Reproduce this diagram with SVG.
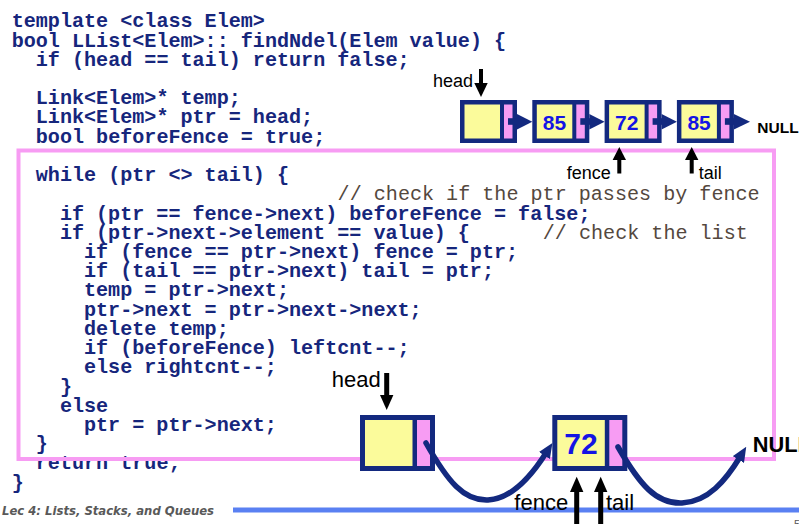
<svg xmlns="http://www.w3.org/2000/svg" width="799" height="524" viewBox="0 0 799 524">
<style>
.code{font-family:"Liberation Mono","Courier New",monospace;font-size:20.1px;font-weight:bold;fill:#16267c;}
.cmt{font-family:"Liberation Mono","Courier New",monospace;font-size:20.1px;font-weight:normal;fill:#54483e;}
.navy{fill:#13297f;}
.yel{fill:#fbfb9b;}
.pink{fill:#f79cf3;}
.val{font-family:"Liberation Sans",Arial,sans-serif;font-weight:bold;fill:#1414e4;text-anchor:middle;}
.lbl{font-family:"Liberation Sans",Arial,sans-serif;fill:#000;}
.null{font-family:"Liberation Sans",Arial,sans-serif;font-weight:bold;fill:#000;}
.curve{fill:none;stroke:#13297f;stroke-width:5.5;stroke-linecap:round;}
.ptr{fill:#000;}
</style>
<defs>
<marker id="curvehead" markerUnits="userSpaceOnUse" viewBox="0 0 15 13" refX="3" refY="6.5" markerWidth="15" markerHeight="13" orient="auto">
<path d="M0,0 L15,6.5 L0,13 z" fill="#13297f"/>
</marker>
</defs>
<rect width="799" height="524" fill="#fff"/>

<g id="code">
<text class="code" x="11.7" y="27.3">template &lt;class Elem&gt;</text>
<text class="code" x="11.7" y="46.5">bool LList&lt;Elem&gt;:: findNdel(Elem value) {</text>
<text class="code" x="35.8" y="65.7">if (head == tail) return false;</text>
<text class="code" x="35.8" y="104.2">Link&lt;Elem&gt;* temp;</text>
<text class="code" x="35.8" y="123.4">Link&lt;Elem&gt;* ptr = head;</text>
<text class="code" x="35.8" y="142.6">bool beforeFence = true;</text>
<text class="code" x="35.8" y="181.1">while (ptr &lt;&gt; tail) {</text>
<text class="cmt" x="337.6" y="200.3">// check if the ptr passes by fence</text>
<text class="code" x="59.9" y="219.5">if (ptr == fence-&gt;next) beforeFence = false;</text>
<text class="code" x="59.9" y="238.7">if (ptr-&gt;next-&gt;element == value) {</text>
<text class="cmt" x="542.8" y="238.7">// check the list</text>
<text class="code" x="84" y="257.9">if (fence == ptr-&gt;next) fence = ptr;</text>
<text class="code" x="84" y="277.1">if (tail == ptr-&gt;next) tail = ptr;</text>
<text class="code" x="84" y="296.4">temp = ptr-&gt;next;</text>
<text class="code" x="84" y="315.6">ptr-&gt;next = ptr-&gt;next-&gt;next;</text>
<text class="code" x="84" y="334.8">delete temp;</text>
<text class="code" x="84" y="354">if (beforeFence) leftcnt--;</text>
<text class="code" x="84" y="373.3">else rightcnt--;</text>
<text class="code" x="59.9" y="392.5">}</text>
<text class="code" x="59.9" y="411.7">else</text>
<text class="code" x="84" y="430.9">ptr = ptr-&gt;next;</text>
<text class="code" x="35.8" y="450.1">}</text>
<text class="code" x="35.8" y="469.3">return true;</text>
<text class="code" x="11.7" y="488.5">}</text>
</g>

<rect id="loop-frame" x="18.5" y="150.5" width="755.5" height="308.5" fill="none" stroke="#f79cf3" stroke-width="4"/>

<g id="footer">
<line x1="233" y1="510" x2="799" y2="510" stroke="#5a80f2" stroke-width="5"/>
<text x="2" y="515.3" font-family="'DejaVu Sans',Verdana,sans-serif" font-size="11.6" font-weight="bold" font-style="italic" fill="#595959" textLength="212" lengthAdjust="spacingAndGlyphs">Lec 4: Lists, Stacks, and Queues</text>
<text x="794" y="528" font-family="'Liberation Sans',Arial,sans-serif" font-size="11" fill="#595959">5</text>
</g>

<g id="top-node-1">
<rect class="navy" x="460" y="100" width="57" height="43"/>
<rect class="yel" x="464.5" y="104.5" width="35.5" height="34"/>
<rect class="pink" x="504" y="104.5" width="8.5" height="34"/>
</g>
<g id="top-node-2">
<rect class="navy" x="532.3" y="100" width="57" height="43"/>
<rect class="yel" x="536.8" y="104.5" width="35.5" height="34"/>
<rect class="pink" x="576.3" y="104.5" width="8.5" height="34"/>
<text class="val" x="554.5" y="129.5" font-size="21">85</text>
</g>
<g id="top-node-3">
<rect class="navy" x="604.6" y="100" width="57" height="43"/>
<rect class="yel" x="609.1" y="104.5" width="35.5" height="34"/>
<rect class="pink" x="648.6" y="104.5" width="8.5" height="34"/>
<text class="val" x="626.8" y="129.5" font-size="21">72</text>
</g>
<g id="top-node-4">
<rect class="navy" x="676.9" y="100" width="57" height="43"/>
<rect class="yel" x="681.4" y="104.5" width="35.5" height="34"/>
<rect class="pink" x="720.9" y="104.5" width="8.5" height="34"/>
<text class="val" x="699.1" y="129.5" font-size="21">85</text>
</g>
<text id="top-null" class="null" x="757.3" y="132.7" font-size="15.5">NULL</text>

<g id="bottom-node-1">
<rect class="navy" x="360" y="415" width="75" height="56"/>
<rect class="yel" x="365" y="420" width="47.5" height="46"/>
<rect class="pink" x="417" y="420" width="13" height="46"/>
</g>
<g id="bottom-node-2">
<rect class="navy" x="552.3" y="415" width="75" height="56"/>
<rect class="yel" x="557.3" y="420" width="47.5" height="46"/>
<rect class="pink" x="609.3" y="420" width="13" height="46"/>
<text class="val" x="581" y="454" font-size="30">72</text>
</g>
<text id="bottom-null" class="null" x="752.7" y="451.7" font-size="21.8">NULL</text>

<g id="connectors">
<g class="navy">
<rect x="508" y="118.2" width="11" height="6.6"/>
<polygon points="517,114 517,129.4 532.3,121.7"/>
<rect x="580.3" y="118.2" width="11" height="6.6"/>
<polygon points="589.3,114 589.3,129.4 604.6,121.7"/>
<rect x="652.6" y="118.2" width="11" height="6.6"/>
<polygon points="661.6,114 661.6,129.4 676.9,121.7"/>
<rect x="724.9" y="118.2" width="11" height="6.6"/>
<polygon points="733.9,114 733.9,129.4 750,121.7"/>
</g>
<path class="curve" d="M426,443 C448,482 464,501 488,500 C512,499 532,475 546,453" marker-end="url(#curvehead)"/>
<path class="curve" d="M618,447 C640,485 656,504 682,503 C708,502 726,480 740,457" marker-end="url(#curvehead)"/>
<g class="ptr">
<rect x="479" y="69" width="4" height="15"/>
<polygon points="474.3,83 487.7,83 481,97"/>
<rect x="617.3" y="159" width="4" height="14.5"/>
<polygon points="612.6,160 626,160 619.3,147"/>
<rect x="689.7" y="159" width="4" height="14.5"/>
<polygon points="685,160 698.4,160 691.7,147"/>
<rect x="384.2" y="373" width="5" height="23"/>
<polygon points="380,395 393.4,395 386.7,410"/>
<rect x="574.2" y="490" width="5" height="34"/>
<polygon points="570,492 583.4,492 576.7,476.7"/>
<rect x="598.2" y="490" width="5" height="34"/>
<polygon points="594,492 607.4,492 600.7,476.7"/>
</g>
</g>

<g id="labels">
<text class="lbl" x="433" y="86.7" font-size="18">head</text>
<text class="lbl" x="566.7" y="178.7" font-size="18">fence</text>
<text class="lbl" x="698.7" y="178.7" font-size="18">tail</text>
<text class="lbl" x="331.7" y="386.7" font-size="22">head</text>
<text class="lbl" x="514.3" y="510" font-size="22">fence</text>
<text class="lbl" x="606" y="510" font-size="22">tail</text>
</g>
</svg>
